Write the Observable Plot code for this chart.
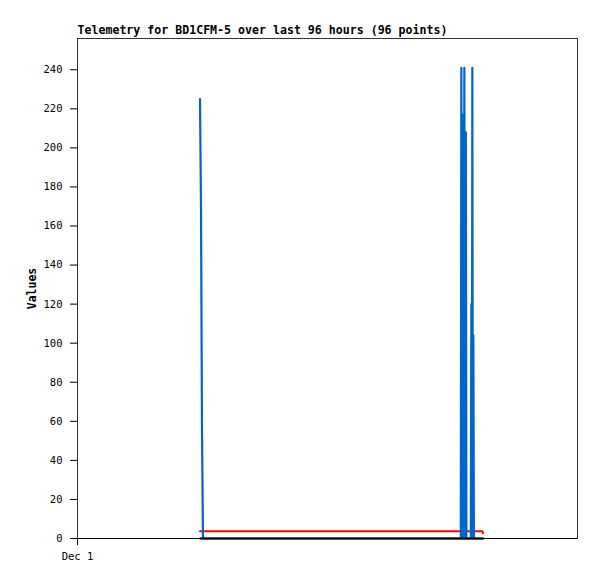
<!DOCTYPE html>
<html>
<head>
<meta charset="utf-8">
<script src="https://cdn.jsdelivr.net/npm/d3@7"></script>
<script src="https://cdn.jsdelivr.net/npm/@observablehq/plot@0.6"></script>
<style>
  html, body { margin: 0; padding: 0; background: #fff; }
</style>
</head>
<body>
<div id="chart"></div>
<script>
const title = "Telemetry for BD1CFM-5 over last 96 hours (96 points)";
const yLabel = "Values";
const day = "2023-12-01";
const xStart = "00:00:00";
const xEnd = "16:40:00";
const xTicks = ["00:00:00"];
const yTicks = [0, 20, 40, 60, 80, 100, 120, 140, 160, 180, 200, 220, 240];

// sample times (UTC, Dec 1)
const times = [
  "04:05:00", "04:07:00", "04:09:00", "04:11:00",
  "12:46:36", "12:47:42", "12:49:12", "12:50:42", "12:52:12", "12:53:42",
  "12:55:12", "12:56:42", "12:57:48",
  "13:06:36", "13:07:42", "13:08:42", "13:09:42", "13:10:42", "13:11:42", "13:12:48",
  "13:30:00", "13:31:00"
];
const blueValues = [225, 169, 56, 0, 0, 241, 0, 217, 0, 241, 0, 208, 0, 0, 120, 0, 241, 0, 104, 0, 0, 0];
const redValues = [3.7, 3.7, 3.7, 3.7, 3.7, 3.7, 3.7, 3.7, 3.7, 3.7, 3.7, 3.7, 3.7, 3.7, 3.7, 3.7, 3.7, 3.7, 3.7, 3.7, 3.7, 2.7];
const blackValues = [0, 0, 0, 0, 0, 0, 0, 0, 0, 0, 0, 0, 0, 0, 0, 0, 0, 0, 0, 0, 0, 0];

const toDate = (t) => new Date(`${day}T${t}Z`);
const rows = times.map((t, i) => ({
  t: toDate(t), blue: blueValues[i], red: redValues[i], black: blackValues[i]
}));

const chart = Plot.plot({
  width: 597,
  height: 579,
  marginLeft: 77,
  marginRight: 20,
  marginTop: 38,
  marginBottom: 41,
  style: { fontFamily: "'DejaVu Sans Mono', monospace", fontSize: "10.5px", background: "#fff", color: "#000" },
  x: {
    type: "utc",
    domain: [toDate(xStart), toDate(xEnd)],
    ticks: xTicks.map(toDate),
    tickFormat: d3.utcFormat("%b %-d"),
    tickSize: 7,
    tickPadding: 7,
    label: null
  },
  y: {
    domain: [0, 256],
    ticks: yTicks,
    tickSize: 7,
    tickPadding: 8,
    label: null
  },
  marks: [
    Plot.frame({ stroke: "#333" }),
    Plot.ruleY([0], { stroke: "#000" }),
    Plot.line(rows, { x: "t", y: "red", stroke: "#ff0000", strokeWidth: 2 }),
    Plot.line(rows, { x: "t", y: "blue", stroke: "#0066cc", strokeWidth: 2.2 }),
    Plot.line(rows, { x: "t", y: "black", stroke: "#000", strokeWidth: 2 }),
    Plot.text([title], { frameAnchor: "top-left", dy: -5, lineAnchor: "bottom", fontWeight: "bold", fontSize: 11.6 }),
    Plot.text([yLabel], { frameAnchor: "left", dx: -45, rotate: -90, textAnchor: "middle", lineAnchor: "middle", fontWeight: "bold", fontSize: 11.5 })
  ]
});
document.getElementById("chart").appendChild(chart);
</script>
</body>
</html>
